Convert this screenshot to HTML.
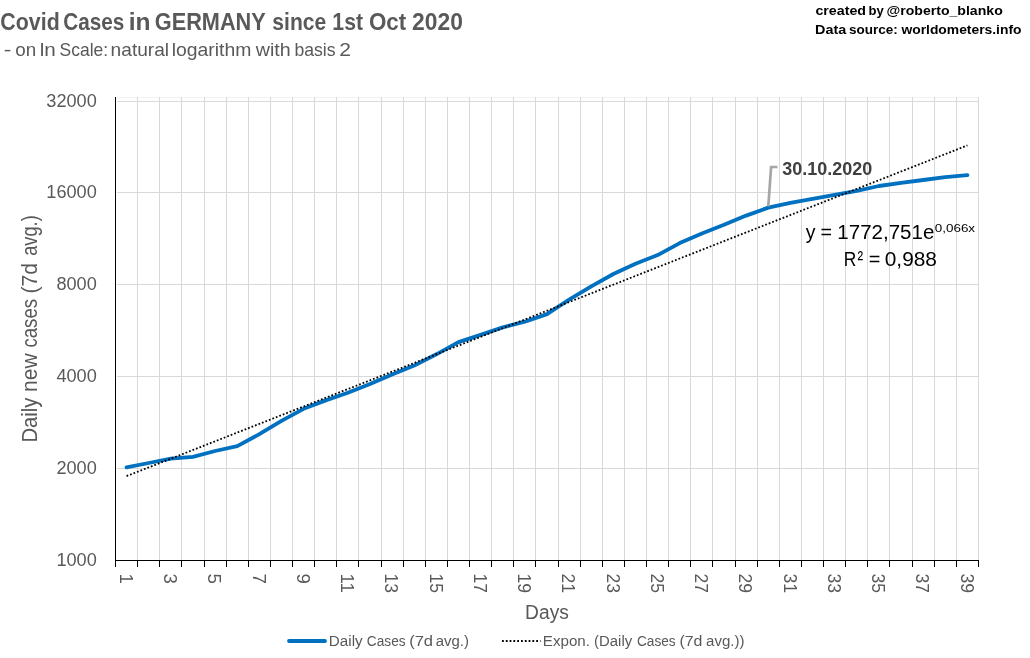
<!DOCTYPE html>
<html><head><meta charset="utf-8"><style>html,body{margin:0;padding:0;background:#fff;overflow:hidden}svg{display:block;will-change:transform}</style></head>
<body>
<svg width="1030" height="658" viewBox="0 0 1030 658">
<rect width="1030" height="658" fill="#fff"/>
<rect x="117" y="97" width="861.5" height="1" fill="#f2f2f2"/>
<rect x="137" y="97" width="1" height="463" fill="#d9d9d9"/>
<rect x="159" y="97" width="1" height="463" fill="#d9d9d9"/>
<rect x="181" y="97" width="1" height="463" fill="#d9d9d9"/>
<rect x="204" y="97" width="1" height="463" fill="#d9d9d9"/>
<rect x="226" y="97" width="1" height="463" fill="#d9d9d9"/>
<rect x="248" y="97" width="1" height="463" fill="#d9d9d9"/>
<rect x="270" y="97" width="1" height="463" fill="#d9d9d9"/>
<rect x="292" y="97" width="1" height="463" fill="#d9d9d9"/>
<rect x="314" y="97" width="1" height="463" fill="#d9d9d9"/>
<rect x="336" y="97" width="1" height="463" fill="#d9d9d9"/>
<rect x="358" y="97" width="1" height="463" fill="#d9d9d9"/>
<rect x="381" y="97" width="1" height="463" fill="#d9d9d9"/>
<rect x="403" y="97" width="1" height="463" fill="#d9d9d9"/>
<rect x="425" y="97" width="1" height="463" fill="#d9d9d9"/>
<rect x="447" y="97" width="1" height="463" fill="#d9d9d9"/>
<rect x="469" y="97" width="1" height="463" fill="#d9d9d9"/>
<rect x="491" y="97" width="1" height="463" fill="#d9d9d9"/>
<rect x="513" y="97" width="1" height="463" fill="#d9d9d9"/>
<rect x="535" y="97" width="1" height="463" fill="#d9d9d9"/>
<rect x="558" y="97" width="1" height="463" fill="#d9d9d9"/>
<rect x="580" y="97" width="1" height="463" fill="#d9d9d9"/>
<rect x="602" y="97" width="1" height="463" fill="#d9d9d9"/>
<rect x="624" y="97" width="1" height="463" fill="#d9d9d9"/>
<rect x="646" y="97" width="1" height="463" fill="#d9d9d9"/>
<rect x="668" y="97" width="1" height="463" fill="#d9d9d9"/>
<rect x="690" y="97" width="1" height="463" fill="#d9d9d9"/>
<rect x="712" y="97" width="1" height="463" fill="#d9d9d9"/>
<rect x="735" y="97" width="1" height="463" fill="#d9d9d9"/>
<rect x="757" y="97" width="1" height="463" fill="#d9d9d9"/>
<rect x="779" y="97" width="1" height="463" fill="#d9d9d9"/>
<rect x="801" y="97" width="1" height="463" fill="#d9d9d9"/>
<rect x="823" y="97" width="1" height="463" fill="#d9d9d9"/>
<rect x="845" y="97" width="1" height="463" fill="#d9d9d9"/>
<rect x="867" y="97" width="1" height="463" fill="#d9d9d9"/>
<rect x="889" y="97" width="1" height="463" fill="#d9d9d9"/>
<rect x="912" y="97" width="1" height="463" fill="#d9d9d9"/>
<rect x="934" y="97" width="1" height="463" fill="#d9d9d9"/>
<rect x="956" y="97" width="1" height="463" fill="#d9d9d9"/>
<rect x="978" y="97" width="1" height="463" fill="#d9d9d9"/>
<rect x="117" y="101" width="861.5" height="1" fill="#d9d9d9"/>
<rect x="117" y="192" width="861.5" height="1" fill="#d9d9d9"/>
<rect x="117" y="284" width="861.5" height="1" fill="#d9d9d9"/>
<rect x="117" y="376" width="861.5" height="1" fill="#d9d9d9"/>
<rect x="117" y="468" width="861.5" height="1" fill="#d9d9d9"/>
<rect x="115" y="97" width="1" height="470" fill="#000"/>
<rect x="115" y="560" width="864.0" height="1" fill="#000"/>
<rect x="137" y="560" width="1" height="7" fill="#000"/>
<rect x="159" y="560" width="1" height="7" fill="#000"/>
<rect x="181" y="560" width="1" height="7" fill="#000"/>
<rect x="204" y="560" width="1" height="7" fill="#000"/>
<rect x="226" y="560" width="1" height="7" fill="#000"/>
<rect x="248" y="560" width="1" height="7" fill="#000"/>
<rect x="270" y="560" width="1" height="7" fill="#000"/>
<rect x="292" y="560" width="1" height="7" fill="#000"/>
<rect x="314" y="560" width="1" height="7" fill="#000"/>
<rect x="336" y="560" width="1" height="7" fill="#000"/>
<rect x="358" y="560" width="1" height="7" fill="#000"/>
<rect x="381" y="560" width="1" height="7" fill="#000"/>
<rect x="403" y="560" width="1" height="7" fill="#000"/>
<rect x="425" y="560" width="1" height="7" fill="#000"/>
<rect x="447" y="560" width="1" height="7" fill="#000"/>
<rect x="469" y="560" width="1" height="7" fill="#000"/>
<rect x="491" y="560" width="1" height="7" fill="#000"/>
<rect x="513" y="560" width="1" height="7" fill="#000"/>
<rect x="535" y="560" width="1" height="7" fill="#000"/>
<rect x="558" y="560" width="1" height="7" fill="#000"/>
<rect x="580" y="560" width="1" height="7" fill="#000"/>
<rect x="602" y="560" width="1" height="7" fill="#000"/>
<rect x="624" y="560" width="1" height="7" fill="#000"/>
<rect x="646" y="560" width="1" height="7" fill="#000"/>
<rect x="668" y="560" width="1" height="7" fill="#000"/>
<rect x="690" y="560" width="1" height="7" fill="#000"/>
<rect x="712" y="560" width="1" height="7" fill="#000"/>
<rect x="735" y="560" width="1" height="7" fill="#000"/>
<rect x="757" y="560" width="1" height="7" fill="#000"/>
<rect x="779" y="560" width="1" height="7" fill="#000"/>
<rect x="801" y="560" width="1" height="7" fill="#000"/>
<rect x="823" y="560" width="1" height="7" fill="#000"/>
<rect x="845" y="560" width="1" height="7" fill="#000"/>
<rect x="867" y="560" width="1" height="7" fill="#000"/>
<rect x="889" y="560" width="1" height="7" fill="#000"/>
<rect x="912" y="560" width="1" height="7" fill="#000"/>
<rect x="934" y="560" width="1" height="7" fill="#000"/>
<rect x="956" y="560" width="1" height="7" fill="#000"/>
<rect x="978" y="560" width="1" height="7" fill="#000"/>
<text x="96.8" y="107.0" font-family="Liberation Sans, sans-serif" font-size="18.7" fill="#595959" text-anchor="end" textLength="50.5" lengthAdjust="spacingAndGlyphs">32000</text>
<text x="96.8" y="198.0" font-family="Liberation Sans, sans-serif" font-size="18.7" fill="#595959" text-anchor="end" textLength="50.5" lengthAdjust="spacingAndGlyphs">16000</text>
<text x="96.8" y="290.0" font-family="Liberation Sans, sans-serif" font-size="18.7" fill="#595959" text-anchor="end" textLength="40.4" lengthAdjust="spacingAndGlyphs">8000</text>
<text x="96.8" y="382.0" font-family="Liberation Sans, sans-serif" font-size="18.7" fill="#595959" text-anchor="end" textLength="40.4" lengthAdjust="spacingAndGlyphs">4000</text>
<text x="96.8" y="474.0" font-family="Liberation Sans, sans-serif" font-size="18.7" fill="#595959" text-anchor="end" textLength="40.4" lengthAdjust="spacingAndGlyphs">2000</text>
<text x="96.8" y="566.0" font-family="Liberation Sans, sans-serif" font-size="18.7" fill="#595959" text-anchor="end" textLength="40.4" lengthAdjust="spacingAndGlyphs">1000</text>
<text transform="translate(119.86,573.5) rotate(90)" font-family="Liberation Sans, sans-serif" font-size="18.7" fill="#595959">1</text>
<text transform="translate(164.12,573.5) rotate(90)" font-family="Liberation Sans, sans-serif" font-size="18.7" fill="#595959">3</text>
<text transform="translate(208.38,573.5) rotate(90)" font-family="Liberation Sans, sans-serif" font-size="18.7" fill="#595959">5</text>
<text transform="translate(252.63,573.5) rotate(90)" font-family="Liberation Sans, sans-serif" font-size="18.7" fill="#595959">7</text>
<text transform="translate(296.89,573.5) rotate(90)" font-family="Liberation Sans, sans-serif" font-size="18.7" fill="#595959">9</text>
<text transform="translate(341.15,573.5) rotate(90)" font-family="Liberation Sans, sans-serif" font-size="18.7" fill="#595959" textLength="19.5" lengthAdjust="spacingAndGlyphs">11</text>
<text transform="translate(385.40,573.5) rotate(90)" font-family="Liberation Sans, sans-serif" font-size="18.7" fill="#595959" textLength="19.5" lengthAdjust="spacingAndGlyphs">13</text>
<text transform="translate(429.66,573.5) rotate(90)" font-family="Liberation Sans, sans-serif" font-size="18.7" fill="#595959" textLength="19.5" lengthAdjust="spacingAndGlyphs">15</text>
<text transform="translate(473.92,573.5) rotate(90)" font-family="Liberation Sans, sans-serif" font-size="18.7" fill="#595959" textLength="19.5" lengthAdjust="spacingAndGlyphs">17</text>
<text transform="translate(518.17,573.5) rotate(90)" font-family="Liberation Sans, sans-serif" font-size="18.7" fill="#595959" textLength="19.5" lengthAdjust="spacingAndGlyphs">19</text>
<text transform="translate(562.43,573.5) rotate(90)" font-family="Liberation Sans, sans-serif" font-size="18.7" fill="#595959" textLength="19.5" lengthAdjust="spacingAndGlyphs">21</text>
<text transform="translate(606.68,573.5) rotate(90)" font-family="Liberation Sans, sans-serif" font-size="18.7" fill="#595959" textLength="19.5" lengthAdjust="spacingAndGlyphs">23</text>
<text transform="translate(650.94,573.5) rotate(90)" font-family="Liberation Sans, sans-serif" font-size="18.7" fill="#595959" textLength="19.5" lengthAdjust="spacingAndGlyphs">25</text>
<text transform="translate(695.20,573.5) rotate(90)" font-family="Liberation Sans, sans-serif" font-size="18.7" fill="#595959" textLength="19.5" lengthAdjust="spacingAndGlyphs">27</text>
<text transform="translate(739.45,573.5) rotate(90)" font-family="Liberation Sans, sans-serif" font-size="18.7" fill="#595959" textLength="19.5" lengthAdjust="spacingAndGlyphs">29</text>
<text transform="translate(783.71,573.5) rotate(90)" font-family="Liberation Sans, sans-serif" font-size="18.7" fill="#595959" textLength="19.5" lengthAdjust="spacingAndGlyphs">31</text>
<text transform="translate(827.97,573.5) rotate(90)" font-family="Liberation Sans, sans-serif" font-size="18.7" fill="#595959" textLength="19.5" lengthAdjust="spacingAndGlyphs">33</text>
<text transform="translate(872.22,573.5) rotate(90)" font-family="Liberation Sans, sans-serif" font-size="18.7" fill="#595959" textLength="19.5" lengthAdjust="spacingAndGlyphs">35</text>
<text transform="translate(916.48,573.5) rotate(90)" font-family="Liberation Sans, sans-serif" font-size="18.7" fill="#595959" textLength="19.5" lengthAdjust="spacingAndGlyphs">37</text>
<text transform="translate(960.74,573.5) rotate(90)" font-family="Liberation Sans, sans-serif" font-size="18.7" fill="#595959" textLength="19.5" lengthAdjust="spacingAndGlyphs">39</text>
<text transform="translate(37.1,0) rotate(-90)" x="-442.47" y="0.00" font-family="Liberation Sans, sans-serif" font-size="21.8" fill="#595959" textLength="44.92" lengthAdjust="spacingAndGlyphs">Daily</text>
<text transform="translate(37.1,0) rotate(-90)" x="-391.92" y="0.00" font-family="Liberation Sans, sans-serif" font-size="21.8" fill="#595959" textLength="38.66" lengthAdjust="spacingAndGlyphs">new</text>
<text transform="translate(37.1,0) rotate(-90)" x="-347.59" y="0.00" font-family="Liberation Sans, sans-serif" font-size="21.8" fill="#595959" textLength="48.64" lengthAdjust="spacingAndGlyphs">cases</text>
<text transform="translate(37.1,0) rotate(-90)" x="-293.53" y="0.00" font-family="Liberation Sans, sans-serif" font-size="21.8" fill="#595959" textLength="30.66" lengthAdjust="spacingAndGlyphs">(7d</text>
<text transform="translate(37.1,0) rotate(-90)" x="-255.77" y="0.00" font-family="Liberation Sans, sans-serif" font-size="21.8" fill="#595959" textLength="40.48" lengthAdjust="spacingAndGlyphs">avg.)</text>
<text x="525.11" y="618.80" font-family="Liberation Sans, sans-serif" font-size="20" fill="#595959" textLength="43.77" lengthAdjust="spacingAndGlyphs">Days</text>
<text x="0.35" y="29.90" font-family="Liberation Sans, sans-serif" font-size="23.8" font-weight="bold" fill="#595959" textLength="59.35" lengthAdjust="spacingAndGlyphs">Covid</text>
<text x="63.27" y="29.90" font-family="Liberation Sans, sans-serif" font-size="23.8" font-weight="bold" fill="#595959" textLength="61.10" lengthAdjust="spacingAndGlyphs">Cases</text>
<text x="128.78" y="29.90" font-family="Liberation Sans, sans-serif" font-size="23.8" font-weight="bold" fill="#595959" textLength="21.82" lengthAdjust="spacingAndGlyphs">in</text>
<text x="154.83" y="29.90" font-family="Liberation Sans, sans-serif" font-size="23.8" font-weight="bold" fill="#595959" textLength="110.92" lengthAdjust="spacingAndGlyphs">GERMANY</text>
<text x="272.36" y="29.90" font-family="Liberation Sans, sans-serif" font-size="23.8" font-weight="bold" fill="#595959" textLength="53.87" lengthAdjust="spacingAndGlyphs">since</text>
<text x="332.37" y="29.90" font-family="Liberation Sans, sans-serif" font-size="23.8" font-weight="bold" fill="#595959" textLength="30.70" lengthAdjust="spacingAndGlyphs">1st</text>
<text x="368.91" y="29.90" font-family="Liberation Sans, sans-serif" font-size="23.8" font-weight="bold" fill="#595959" textLength="37.26" lengthAdjust="spacingAndGlyphs">Oct</text>
<text x="412.10" y="29.90" font-family="Liberation Sans, sans-serif" font-size="23.8" font-weight="bold" fill="#595959" textLength="50.76" lengthAdjust="spacingAndGlyphs">2020</text>
<text x="3.87" y="55.80" font-family="Liberation Sans, sans-serif" font-size="17.7" fill="#595959" textLength="7.61" lengthAdjust="spacingAndGlyphs">-</text>
<text x="15.30" y="55.80" font-family="Liberation Sans, sans-serif" font-size="17.7" fill="#595959" textLength="20.92" lengthAdjust="spacingAndGlyphs">on</text>
<text x="39.70" y="55.80" font-family="Liberation Sans, sans-serif" font-size="17.7" fill="#595959" textLength="16.11" lengthAdjust="spacingAndGlyphs">ln</text>
<text x="59.51" y="55.80" font-family="Liberation Sans, sans-serif" font-size="17.7" fill="#595959" textLength="48.65" lengthAdjust="spacingAndGlyphs">Scale:</text>
<text x="110.61" y="55.80" font-family="Liberation Sans, sans-serif" font-size="17.7" fill="#595959" textLength="58.49" lengthAdjust="spacingAndGlyphs">natural</text>
<text x="171.69" y="55.80" font-family="Liberation Sans, sans-serif" font-size="17.7" fill="#595959" textLength="79.68" lengthAdjust="spacingAndGlyphs">logarithm</text>
<text x="255.75" y="55.80" font-family="Liberation Sans, sans-serif" font-size="17.7" fill="#595959" textLength="35.00" lengthAdjust="spacingAndGlyphs">with</text>
<text x="294.45" y="55.80" font-family="Liberation Sans, sans-serif" font-size="17.7" fill="#595959" textLength="41.15" lengthAdjust="spacingAndGlyphs">basis</text>
<text x="339.15" y="55.80" font-family="Liberation Sans, sans-serif" font-size="17.7" fill="#595959" textLength="11.73" lengthAdjust="spacingAndGlyphs">2</text>
<text x="815.43" y="14.50" font-family="Liberation Sans, sans-serif" font-size="13.7" font-weight="bold" fill="#000" textLength="50.60" lengthAdjust="spacingAndGlyphs">created</text>
<text x="868.55" y="14.50" font-family="Liberation Sans, sans-serif" font-size="13.7" font-weight="bold" fill="#000" textLength="15.24" lengthAdjust="spacingAndGlyphs">by</text>
<text x="886.49" y="14.50" font-family="Liberation Sans, sans-serif" font-size="13.7" font-weight="bold" fill="#000" textLength="116.26" lengthAdjust="spacingAndGlyphs">@roberto_blanko</text>
<text x="815.03" y="33.90" font-family="Liberation Sans, sans-serif" font-size="13.7" font-weight="bold" fill="#000" textLength="31.16" lengthAdjust="spacingAndGlyphs">Data</text>
<text x="849.03" y="33.90" font-family="Liberation Sans, sans-serif" font-size="13.7" font-weight="bold" fill="#000" textLength="48.75" lengthAdjust="spacingAndGlyphs">source:</text>
<text x="901.43" y="33.90" font-family="Liberation Sans, sans-serif" font-size="13.7" font-weight="bold" fill="#000" textLength="120.09" lengthAdjust="spacingAndGlyphs">worldometers.info</text>
<polyline points="126.56,467.30 148.69,463.00 170.82,458.60 192.95,456.80 215.08,451.00 237.21,446.10 259.33,434.20 281.46,420.80 303.59,408.80 325.72,400.40 347.85,392.80 369.97,384.10 392.10,374.50 414.23,365.60 436.36,354.30 458.49,342.10 480.62,334.90 502.74,327.40 524.87,321.70 547.00,314.10 569.13,299.60 591.26,286.30 613.38,274.00 635.51,263.80 657.64,255.10 679.77,243.10 701.90,233.40 724.03,224.80 746.15,215.60 768.28,207.60 790.41,202.80 812.54,198.90 834.67,194.80 856.79,190.80 878.92,186.00 901.05,182.80 923.18,180.00 945.31,177.10 967.44,175.20" fill="none" stroke="#0070c0" stroke-width="3.8" stroke-linecap="round" stroke-linejoin="round"/>
<line x1="126.56" y1="476.1" x2="967.44" y2="145.39" stroke="#000" stroke-width="1.8" stroke-dasharray="1.75 1.98"/>
<polyline points="768.3,206.4 771.1,167 777.5,167" fill="none" stroke="#a6a6a6" stroke-width="2.7"/>
<text x="782.3" y="174.5" font-family="Liberation Sans, sans-serif" font-size="17.5" font-weight="bold" fill="#404040" textLength="90" lengthAdjust="spacingAndGlyphs">30.10.2020</text>
<text x="805.65" y="238.90" font-family="Liberation Sans, sans-serif" font-size="20.0" fill="#000" textLength="9.70" lengthAdjust="spacingAndGlyphs">y</text>
<text x="820.46" y="238.90" font-family="Liberation Sans, sans-serif" font-size="20.0" fill="#000" textLength="11.50" lengthAdjust="spacingAndGlyphs">=</text>
<text x="837.36" y="238.90" font-family="Liberation Sans, sans-serif" font-size="20.0" fill="#000" textLength="96.96" lengthAdjust="spacingAndGlyphs">1772,751e</text>
<text x="934.76" y="231.80" font-family="Liberation Sans, sans-serif" font-size="11.6" fill="#000" textLength="40.31" lengthAdjust="spacingAndGlyphs">0,066x</text>
<text x="843.87" y="265.70" font-family="Liberation Sans, sans-serif" font-size="20.0" fill="#000" textLength="12.55" lengthAdjust="spacingAndGlyphs">R</text>
<text x="857.46" y="265.70" font-family="Liberation Sans, sans-serif" font-size="20.0" fill="#000" textLength="5.64" lengthAdjust="spacingAndGlyphs">²</text>
<text x="868.65" y="265.70" font-family="Liberation Sans, sans-serif" font-size="20.0" fill="#000" textLength="11.62" lengthAdjust="spacingAndGlyphs">=</text>
<text x="884.77" y="265.70" font-family="Liberation Sans, sans-serif" font-size="20.0" fill="#000" textLength="52.22" lengthAdjust="spacingAndGlyphs">0,988</text>
<line x1="289" y1="641" x2="325" y2="641" stroke="#0070c0" stroke-width="3.8" stroke-linecap="round"/>
<text x="328.85" y="645.80" font-family="Liberation Sans, sans-serif" font-size="15.3" fill="#595959" textLength="33.80" lengthAdjust="spacingAndGlyphs">Daily</text>
<text x="366.82" y="645.80" font-family="Liberation Sans, sans-serif" font-size="15.3" fill="#595959" textLength="38.76" lengthAdjust="spacingAndGlyphs">Cases</text>
<text x="409.17" y="645.80" font-family="Liberation Sans, sans-serif" font-size="15.3" fill="#595959" textLength="23.87" lengthAdjust="spacingAndGlyphs">(7d</text>
<text x="435.77" y="645.80" font-family="Liberation Sans, sans-serif" font-size="15.3" fill="#595959" textLength="33.14" lengthAdjust="spacingAndGlyphs">avg.)</text>
<line x1="502" y1="641" x2="540.5" y2="641" stroke="#000" stroke-width="1.8" stroke-dasharray="1.8 2"/>
<text x="542.85" y="645.80" font-family="Liberation Sans, sans-serif" font-size="15.3" fill="#595959" textLength="47.12" lengthAdjust="spacingAndGlyphs">Expon.</text>
<text x="594.07" y="645.80" font-family="Liberation Sans, sans-serif" font-size="15.3" fill="#595959" textLength="38.08" lengthAdjust="spacingAndGlyphs">(Daily</text>
<text x="637.02" y="645.80" font-family="Liberation Sans, sans-serif" font-size="15.3" fill="#595959" textLength="38.65" lengthAdjust="spacingAndGlyphs">Cases</text>
<text x="679.41" y="645.80" font-family="Liberation Sans, sans-serif" font-size="15.3" fill="#595959" textLength="22.99" lengthAdjust="spacingAndGlyphs">(7d</text>
<text x="706.06" y="645.80" font-family="Liberation Sans, sans-serif" font-size="15.3" fill="#595959" textLength="38.46" lengthAdjust="spacingAndGlyphs">avg.))</text>
</svg>
</body></html>
